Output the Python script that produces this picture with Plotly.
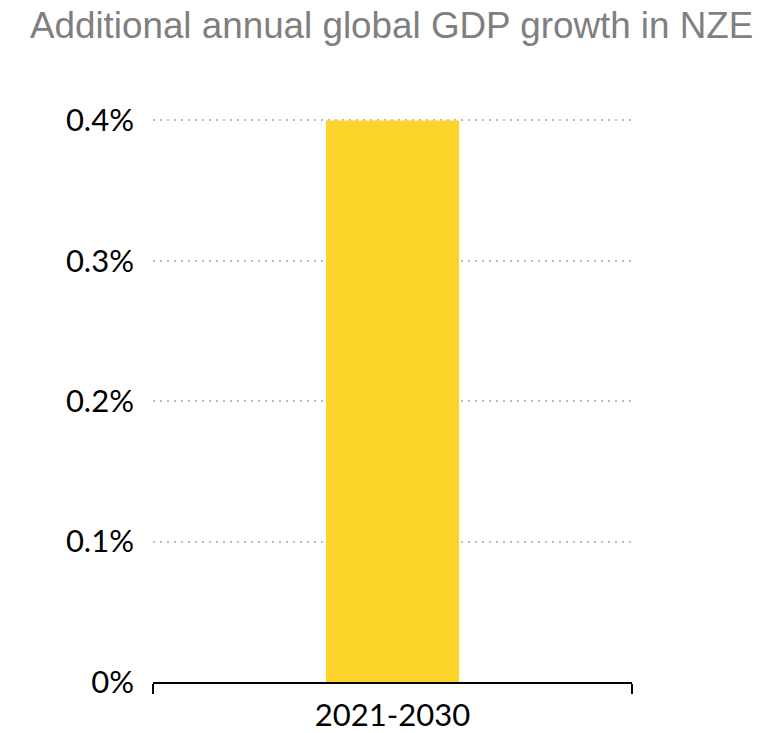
import plotly.graph_objects as go

categories = ["2021-2030"]
gdp_growth = [0.004]
y_ticks = [0, 0.001, 0.002, 0.003, 0.004]
y_tick_labels = ["0%", "0.1%", "0.2%", "0.3%", "0.4%"]

fig = go.Figure(
    go.Bar(
        x=categories,
        y=gdp_growth,
        width=0.278,
        marker=dict(color="#FCD328", line=dict(width=0)),
        hoverinfo="skip",
    )
)

fig.update_layout(
    width=767,
    height=733,
    paper_bgcolor="white",
    plot_bgcolor="white",
    showlegend=False,
    margin=dict(l=153, r=135, t=119, b=51),
    title=dict(
        text="Additional annual global GDP growth in NZE",
        x=0.039,
        xanchor="left",
        y=0.966,
        yanchor="middle",
        font=dict(family="Liberation Sans, Arial", size=36.8, color="#7F7F7F"),
    ),
    xaxis=dict(
        range=[-0.5, 0.5],
        automargin=False,
        showline=True,
        linecolor="black",
        linewidth=2,
        ticks="outside",
        tickson="boundaries",
        ticklen=10,
        tickwidth=2,
        tickcolor="black",
        showgrid=False,
        ticklabelstandoff=5,
        tickfont=dict(family="Lato", size=31, color="black"),
        fixedrange=True,
    ),
    yaxis=dict(
        range=[0, 0.00401],
        automargin=False,
        tickvals=y_ticks,
        ticktext=y_tick_labels,
        showgrid=True,
        gridcolor="#BABABA",
        gridwidth=2,
        griddash="2px,5px",
        zeroline=False,
        showline=False,
        ticks="",
        ticklabelstandoff=18,
        tickfont=dict(family="Lato", size=31, color="black"),
        fixedrange=True,
    ),
)

fig.write_html("out.html")
